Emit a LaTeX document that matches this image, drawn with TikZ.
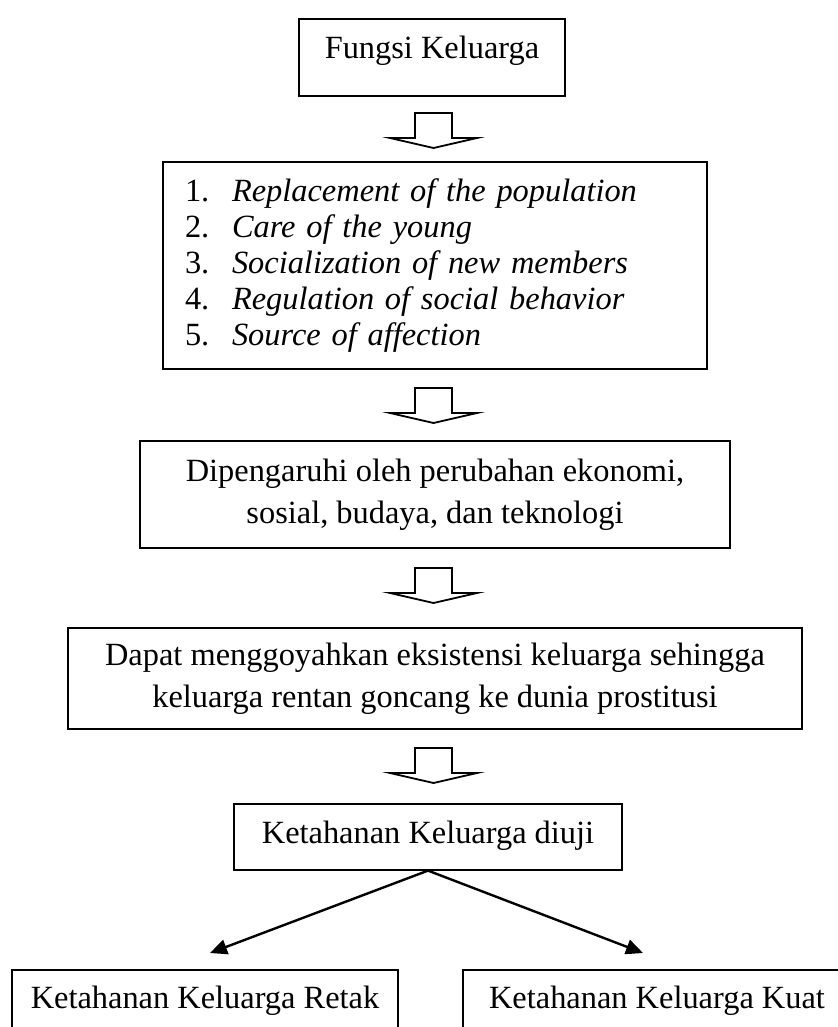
\documentclass[tikz,border=0pt]{standalone}
\usepackage{fontspec}
\setmainfont{Liberation Serif}
\usepackage{tikz}
\usetikzlibrary{arrows.meta}

\begin{document}
\begin{tikzpicture}[x=0.5pt, y=-0.5pt,
		box_style/.style={draw=black, line width=0.8pt, inner sep=0pt, anchor=north, align=center,
			font=\fontsize{16.2}{21}\selectfont},
		line_box/.style={box_style, text height=20pt},
		block_style/.style={draw=black, line width=0.9pt, fill=white, line join=miter},
		edge_style/.style={draw=black, line width=1.2pt, -{Triangle[length=8.5pt,width=7.5pt]}}]

		\useasboundingbox (0,0) rectangle (838,1027);

		\node[line_box, minimum width=133pt, text depth=18.5pt] (n0) at (432,18) {Fungsi Keluarga};
		\node[box_style, minimum width=272pt, minimum height=103.5pt, text width=250pt, align=left,
			font=\fontsize{16.2}{18}\selectfont] (n1) at (435,161)
			{\makebox[23.5pt][l]{1.}\textit{Replacement of the population}\\
			 \makebox[23.5pt][l]{2.}\textit{Care of the young}\\
			 \makebox[23.5pt][l]{3.}\textit{Socialization of new members}\\
			 \makebox[23.5pt][l]{4.}\textit{Regulation of social behavior}\\
			 \makebox[23.5pt][l]{5.}\textit{Source of affection}};
		\node[box_style, minimum width=295pt, minimum height=53.5pt] (n2) at (435,440)
			{Dipengaruhi oleh perubahan ekonomi,\\ sosial, budaya, dan teknologi};
		\node[box_style, minimum width=367pt, minimum height=50.5pt] (n3) at (435,627)
			{Dapat menggoyahkan eksistensi keluarga sehingga\\ keluarga rentan goncang ke dunia prostitusi};
		\node[line_box, minimum width=194pt, text depth=13pt] (n4) at (428,803) {Ketahanan Keluarga diuji};
		\node[line_box, minimum width=193pt, text height=19.5pt, text depth=30.5pt] (n5) at (205,969) {Ketahanan Keluarga Retak};
		\node[line_box, minimum width=194pt, text height=19.5pt, text depth=30.5pt] (n6) at (657,969) {Ketahanan Keluarga Kuat};

		% hollow arrows between the boxes
		\foreach \y in {113,388,568,748}
			\draw[block_style, shift={(433.5,\y)}] (-18.5,0) -- (18.5,0) -- (18.5,25) -- (43.5,25)
				-- (0,35) -- (-43.5,25) -- (-18.5,25) -- cycle;

		\coordinate (c5) at (210,953);
		\coordinate (c6) at (643,953);
		\draw[edge_style] (n4.south) -- (c5);
		\draw[edge_style] (n4.south) -- (c6);

\end{tikzpicture}
\end{document}
